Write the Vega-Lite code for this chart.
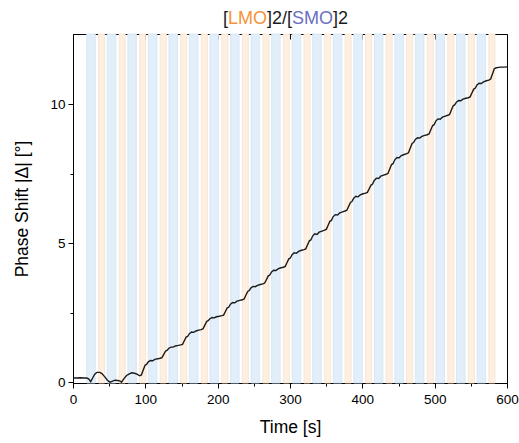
{
  "$schema": "https://vega.github.io/schema/vega-lite/v6.json",
  "width": 434,
  "height": 349,
  "autosize": "none",
  "padding": {"left": 73, "top": 34, "right": 12, "bottom": 60},
  "config": {
    "view": {"stroke": "black", "strokeWidth": 1},
    "font": "Liberation Sans",
    "axis": {"domainColor": "black", "tickColor": "black", "labelColor": "black", "titleColor": "black", "grid": false, "labelFont": "Liberation Sans", "titleFont": "Liberation Sans", "labelFontSize": 13.5, "titleFontSize": 17.5, "titleFontWeight": "normal", "domainWidth": 1, "tickWidth": 1}
  },
  "datasets": {
    "bands": [
      {"start": 19, "end": 30.8, "stim": "SMO"}, {"start": 35.3, "end": 43.8, "stim": "LMO"},
      {"start": 47.4, "end": 59.2, "stim": "SMO"}, {"start": 63.7, "end": 72.2, "stim": "LMO"},
      {"start": 75.8, "end": 87.6, "stim": "SMO"}, {"start": 92.1, "end": 100.6, "stim": "LMO"},
      {"start": 104.2, "end": 116, "stim": "SMO"}, {"start": 120.5, "end": 129, "stim": "LMO"},
      {"start": 132.6, "end": 144.4, "stim": "SMO"}, {"start": 148.9, "end": 157.4, "stim": "LMO"},
      {"start": 161, "end": 172.8, "stim": "SMO"}, {"start": 177.3, "end": 185.8, "stim": "LMO"},
      {"start": 189.4, "end": 201.2, "stim": "SMO"}, {"start": 205.7, "end": 214.2, "stim": "LMO"},
      {"start": 217.8, "end": 229.6, "stim": "SMO"}, {"start": 234.1, "end": 242.6, "stim": "LMO"},
      {"start": 246.2, "end": 258, "stim": "SMO"}, {"start": 262.5, "end": 271, "stim": "LMO"},
      {"start": 274.6, "end": 286.4, "stim": "SMO"}, {"start": 290.9, "end": 299.4, "stim": "LMO"},
      {"start": 303, "end": 314.8, "stim": "SMO"}, {"start": 319.3, "end": 327.8, "stim": "LMO"},
      {"start": 331.4, "end": 343.2, "stim": "SMO"}, {"start": 347.7, "end": 356.2, "stim": "LMO"},
      {"start": 359.8, "end": 371.6, "stim": "SMO"}, {"start": 376.1, "end": 384.6, "stim": "LMO"},
      {"start": 388.2, "end": 400, "stim": "SMO"}, {"start": 404.5, "end": 413, "stim": "LMO"},
      {"start": 416.6, "end": 428.4, "stim": "SMO"}, {"start": 432.9, "end": 441.4, "stim": "LMO"},
      {"start": 445, "end": 456.8, "stim": "SMO"}, {"start": 461.3, "end": 469.8, "stim": "LMO"},
      {"start": 473.4, "end": 485.2, "stim": "SMO"}, {"start": 489.7, "end": 498.2, "stim": "LMO"},
      {"start": 501.8, "end": 513.6, "stim": "SMO"}, {"start": 518.1, "end": 526.6, "stim": "LMO"},
      {"start": 530.2, "end": 542, "stim": "SMO"}, {"start": 546.5, "end": 555, "stim": "LMO"},
      {"start": 558.6, "end": 570.4, "stim": "SMO"}, {"start": 574.9, "end": 583.4, "stim": "LMO"}
    ],
    "phase": [
      {"t": 0, "v": 0.16}, {"t": 5, "v": 0.16}, {"t": 10, "v": 0.17}, {"t": 15, "v": 0.16}, {"t": 19, "v": 0.16},
      {"t": 22, "v": 0.12}, {"t": 24.5, "v": 0.03}, {"t": 27, "v": 0.15}, {"t": 30, "v": 0.3}, {"t": 33, "v": 0.36},
      {"t": 37, "v": 0.36}, {"t": 40, "v": 0.32}, {"t": 44, "v": 0.2}, {"t": 47.5, "v": 0.08}, {"t": 51, "v": 0.01},
      {"t": 54, "v": 0.04}, {"t": 58, "v": 0.08}, {"t": 62, "v": 0.07}, {"t": 65, "v": 0.05}, {"t": 67, "v": 0.01},
      {"t": 70, "v": 0.12}, {"t": 74, "v": 0.25}, {"t": 78, "v": 0.31}, {"t": 81, "v": 0.35}, {"t": 85, "v": 0.33},
      {"t": 88.5, "v": 0.3},
      {"t": 92.1, "v": 0.24}, {"t": 94.6, "v": 0.27}, {"t": 97.1, "v": 0.45}, {"t": 99.6, "v": 0.62}, {"t": 101.6, "v": 0.65},
      {"t": 104.1, "v": 0.74}, {"t": 107.1, "v": 0.79}, {"t": 110.1, "v": 0.78}, {"t": 113.1, "v": 0.83}, {"t": 117.1, "v": 0.85},
      {"t": 120.5, "v": 0.87}, {"t": 123, "v": 0.89}, {"t": 125.5, "v": 1.01}, {"t": 128, "v": 1.13}, {"t": 130, "v": 1.15},
      {"t": 132.5, "v": 1.23}, {"t": 135.5, "v": 1.27}, {"t": 138.5, "v": 1.27}, {"t": 141.5, "v": 1.31}, {"t": 145.5, "v": 1.33},
      {"t": 148.9, "v": 1.35}, {"t": 151.4, "v": 1.37}, {"t": 153.9, "v": 1.5}, {"t": 156.4, "v": 1.63}, {"t": 158.4, "v": 1.65},
      {"t": 160.9, "v": 1.75}, {"t": 163.9, "v": 1.81}, {"t": 166.9, "v": 1.8}, {"t": 169.9, "v": 1.85}, {"t": 173.9, "v": 1.88},
      {"t": 177.3, "v": 1.9}, {"t": 179.8, "v": 1.93}, {"t": 182.3, "v": 2.06}, {"t": 184.8, "v": 2.19}, {"t": 186.8, "v": 2.22},
      {"t": 189.3, "v": 2.29}, {"t": 192.3, "v": 2.33}, {"t": 195.3, "v": 2.32}, {"t": 198.3, "v": 2.36}, {"t": 202.3, "v": 2.38},
      {"t": 205.7, "v": 2.4}, {"t": 208.2, "v": 2.42}, {"t": 210.7, "v": 2.55}, {"t": 213.2, "v": 2.68}, {"t": 215.2, "v": 2.7},
      {"t": 217.7, "v": 2.81}, {"t": 220.7, "v": 2.87}, {"t": 223.7, "v": 2.86}, {"t": 226.7, "v": 2.92}, {"t": 230.7, "v": 2.95},
      {"t": 234.1, "v": 2.97}, {"t": 236.6, "v": 3.0}, {"t": 239.1, "v": 3.14}, {"t": 241.6, "v": 3.27}, {"t": 243.6, "v": 3.3},
      {"t": 246.1, "v": 3.4}, {"t": 249.1, "v": 3.45}, {"t": 252.1, "v": 3.44}, {"t": 255.1, "v": 3.49}, {"t": 259.1, "v": 3.52},
      {"t": 262.5, "v": 3.54}, {"t": 265, "v": 3.57}, {"t": 267.5, "v": 3.7}, {"t": 270, "v": 3.83}, {"t": 272, "v": 3.86},
      {"t": 274.5, "v": 3.97}, {"t": 277.5, "v": 4.03}, {"t": 280.5, "v": 4.02}, {"t": 283.5, "v": 4.08}, {"t": 287.5, "v": 4.12},
      {"t": 290.9, "v": 4.14}, {"t": 293.4, "v": 4.17}, {"t": 295.9, "v": 4.31}, {"t": 298.4, "v": 4.44}, {"t": 300.4, "v": 4.47},
      {"t": 302.9, "v": 4.59}, {"t": 305.9, "v": 4.66}, {"t": 308.9, "v": 4.64}, {"t": 311.9, "v": 4.71}, {"t": 315.9, "v": 4.75},
      {"t": 319.3, "v": 4.77}, {"t": 321.8, "v": 4.8}, {"t": 324.3, "v": 4.95}, {"t": 326.8, "v": 5.09}, {"t": 328.8, "v": 5.12},
      {"t": 331.3, "v": 5.26}, {"t": 334.3, "v": 5.34}, {"t": 337.3, "v": 5.32}, {"t": 340.3, "v": 5.4}, {"t": 344.3, "v": 5.44},
      {"t": 347.7, "v": 5.47}, {"t": 350.2, "v": 5.5}, {"t": 352.7, "v": 5.65}, {"t": 355.2, "v": 5.79}, {"t": 357.2, "v": 5.82},
      {"t": 359.7, "v": 5.96}, {"t": 362.7, "v": 6.03}, {"t": 365.7, "v": 6.02}, {"t": 368.7, "v": 6.09}, {"t": 372.7, "v": 6.13},
      {"t": 376.1, "v": 6.16}, {"t": 378.6, "v": 6.19}, {"t": 381.1, "v": 6.33}, {"t": 383.6, "v": 6.47}, {"t": 385.6, "v": 6.5},
      {"t": 388.1, "v": 6.62}, {"t": 391.1, "v": 6.69}, {"t": 394.1, "v": 6.67}, {"t": 397.1, "v": 6.74}, {"t": 401.1, "v": 6.78},
      {"t": 404.5, "v": 6.8}, {"t": 407, "v": 6.83}, {"t": 409.5, "v": 6.96}, {"t": 412, "v": 7.09}, {"t": 414, "v": 7.12},
      {"t": 416.5, "v": 7.26}, {"t": 419.5, "v": 7.34}, {"t": 422.5, "v": 7.33}, {"t": 425.5, "v": 7.41}, {"t": 429.5, "v": 7.45},
      {"t": 432.9, "v": 7.48}, {"t": 435.4, "v": 7.51}, {"t": 437.9, "v": 7.67}, {"t": 440.4, "v": 7.83}, {"t": 442.4, "v": 7.86},
      {"t": 444.9, "v": 8.0}, {"t": 447.9, "v": 8.08}, {"t": 450.9, "v": 8.07}, {"t": 453.9, "v": 8.15}, {"t": 457.9, "v": 8.19},
      {"t": 461.3, "v": 8.22}, {"t": 463.8, "v": 8.25}, {"t": 466.3, "v": 8.42}, {"t": 468.8, "v": 8.59}, {"t": 470.8, "v": 8.62},
      {"t": 473.3, "v": 8.73}, {"t": 476.3, "v": 8.79}, {"t": 479.3, "v": 8.78}, {"t": 482.3, "v": 8.84}, {"t": 486.3, "v": 8.88},
      {"t": 489.7, "v": 8.9}, {"t": 492.2, "v": 8.93}, {"t": 494.7, "v": 9.08}, {"t": 497.2, "v": 9.23}, {"t": 499.2, "v": 9.26},
      {"t": 501.7, "v": 9.4}, {"t": 504.7, "v": 9.47}, {"t": 507.7, "v": 9.46}, {"t": 510.7, "v": 9.53}, {"t": 514.7, "v": 9.57},
      {"t": 518.1, "v": 9.6}, {"t": 520.6, "v": 9.63}, {"t": 523.1, "v": 9.79}, {"t": 525.6, "v": 9.94}, {"t": 527.6, "v": 9.97},
      {"t": 530.1, "v": 10.07}, {"t": 533.1, "v": 10.13}, {"t": 536.1, "v": 10.12}, {"t": 539.1, "v": 10.18}, {"t": 543.1, "v": 10.21},
      {"t": 546.5, "v": 10.23}, {"t": 549, "v": 10.26}, {"t": 551.5, "v": 10.4}, {"t": 554, "v": 10.54}, {"t": 556, "v": 10.57},
      {"t": 558.5, "v": 10.69}, {"t": 561.5, "v": 10.75}, {"t": 564.5, "v": 10.74}, {"t": 567.5, "v": 10.8}, {"t": 571.5, "v": 10.84},
      {"t": 574.9, "v": 10.86}, {"t": 577.4, "v": 10.9}, {"t": 579.9, "v": 11.08}, {"t": 582.4, "v": 11.27}, {"t": 584.4, "v": 11.3},
      {"t": 588, "v": 11.32}, {"t": 592, "v": 11.33}, {"t": 596, "v": 11.33}, {"t": 600, "v": 11.34}
    ],
    "one": [{}]
  },
  "resolve": {"axis": {"x": "independent", "y": "independent"}},
  "layer": [
    {
      "data": {"name": "bands"},
      "mark": {"type": "rect", "strokeWidth": 0.8},
      "encoding": {
        "x": {"field": "start", "type": "quantitative", "scale": {"domain": [0, 600], "nice": false, "zero": false},
          "axis": {"orient": "bottom", "title": "Time [s]", "values": [0, 50, 100, 150, 200, 250, 300, 350, 400, 450, 500, 550, 600],
            "labelExpr": "datum.value % 100 === 0 ? datum.label : ''",
            "tickSize": {"condition": {"test": "datum.value % 100 === 0", "value": 5}, "value": 3},
            "labelPadding": 4, "titlePadding": 13, "labelFlush": false}},
        "x2": {"field": "end"},
        "fill": {"field": "stim", "type": "nominal", "scale": {"domain": ["SMO", "LMO"], "range": ["#e2eef9", "#fdefe1"]}, "legend": null},
        "stroke": {"field": "stim", "type": "nominal", "scale": {"domain": ["SMO", "LMO"], "range": ["#d2e5f5", "#fae3cd"]}, "legend": null}
      }
    },
    {
      "data": {"name": "phase"},
      "mark": {"type": "line", "color": "#1a1a1a", "strokeWidth": 1.4},
      "encoding": {
        "x": {"field": "t", "type": "quantitative", "scale": {"domain": [0, 600], "nice": false, "zero": false},
          "axis": {"orient": "top", "title": null, "labels": false, "domain": false, "values": [0, 50, 100, 150, 200, 250, 300, 350, 400, 450, 500, 550, 600],
            "tickSize": {"condition": {"test": "datum.value % 100 === 0", "value": -5}, "value": -3}}},
        "y": {"field": "v", "type": "quantitative", "scale": {"domain": [-0.02, 12.52], "nice": false, "zero": false},
          "axis": {"orient": "left", "title": "Phase Shift |Δ| [°]", "values": [0, 2.5, 5, 7.5, 10],
            "labelExpr": "datum.value % 5 === 0 ? datum.label : ''",
            "tickSize": {"condition": {"test": "datum.value % 5 === 0", "value": 5}, "value": 3},
            "labelPadding": 3, "titlePadding": 18}}
      }
    },
    {
      "data": {"name": "one"},
      "mark": {"type": "text", "align": "left", "baseline": "alphabetic", "fontSize": 18, "font": "Liberation Sans", "color": "#1a1a1a"},
      "encoding": {"x": {"datum": 207.4, "axis": null}, "y": {"datum": 12.87, "axis": null}, "text": {"value": "["}}
    },
    {
      "data": {"name": "one"},
      "mark": {"type": "text", "align": "left", "baseline": "alphabetic", "fontSize": 18, "font": "Liberation Sans", "color": "#f5923a"},
      "encoding": {"x": {"datum": 214.3, "axis": null}, "y": {"datum": 12.87, "axis": null}, "text": {"value": "LMO"}}
    },
    {
      "data": {"name": "one"},
      "mark": {"type": "text", "align": "left", "baseline": "alphabetic", "fontSize": 18, "font": "Liberation Sans", "color": "#1a1a1a"},
      "encoding": {"x": {"datum": 268.2, "axis": null}, "y": {"datum": 12.87, "axis": null}, "text": {"value": "]2/["}}
    },
    {
      "data": {"name": "one"},
      "mark": {"type": "text", "align": "left", "baseline": "alphabetic", "fontSize": 18, "font": "Liberation Sans", "color": "#6b70c2"},
      "encoding": {"x": {"datum": 302.8, "axis": null}, "y": {"datum": 12.87, "axis": null}, "text": {"value": "SMO"}}
    },
    {
      "data": {"name": "one"},
      "mark": {"type": "text", "align": "left", "baseline": "alphabetic", "fontSize": 18, "font": "Liberation Sans", "color": "#1a1a1a"},
      "encoding": {"x": {"datum": 359.5, "axis": null}, "y": {"datum": 12.87, "axis": null}, "text": {"value": "]2"}}
    }
  ]
}
